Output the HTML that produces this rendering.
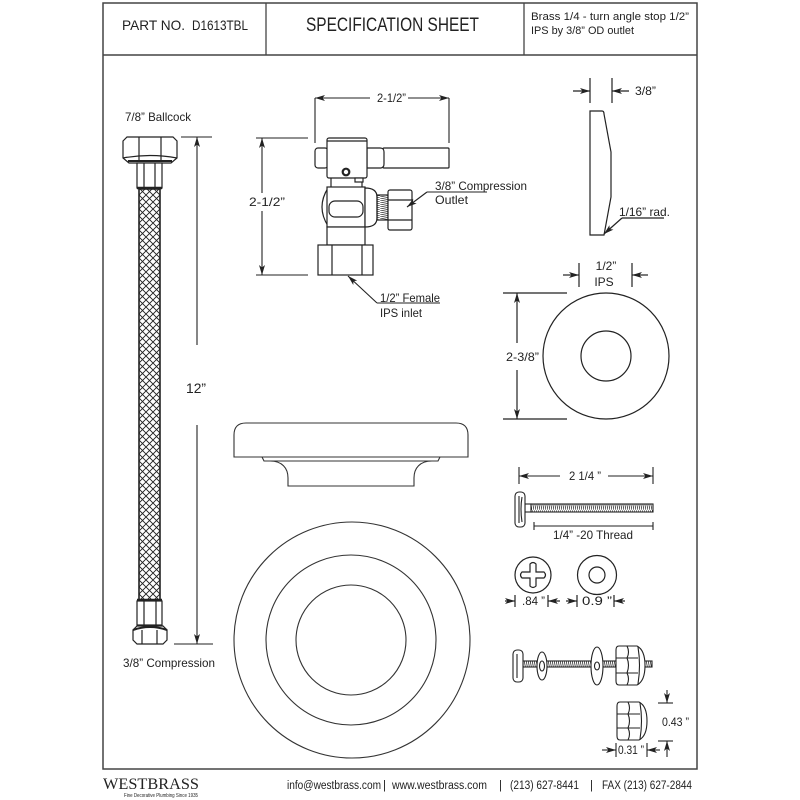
<!DOCTYPE html>
<html><head><meta charset="utf-8"><style>
html,body{margin:0;padding:0;background:#fff;}
svg{display:block;}
text{font-family:"Liberation Sans",sans-serif;fill:#222;}
</style></head><body>
<svg width="800" height="800" viewBox="0 0 800 800" xmlns="http://www.w3.org/2000/svg">
<defs>
<marker id="ah" viewBox="0 0 10 6" refX="10" refY="3" markerWidth="10" markerHeight="6" markerUnits="userSpaceOnUse" orient="auto"><path d="M0,0 L10,3 L0,6 L2.5,3 Z" fill="#222"/></marker>
<pattern id="braid" x="139" y="188" width="7" height="7" patternUnits="userSpaceOnUse"><path d="M0,0 L7,7 M7,0 L0,7" stroke="#222" stroke-width="0.95"/></pattern>
<pattern id="thr" width="2" height="10" patternUnits="userSpaceOnUse"><path d="M0,0 L2,10" stroke="#333" stroke-width="0.8"/></pattern>
<pattern id="thrV" width="10" height="2" patternUnits="userSpaceOnUse"><path d="M0,0 L10,2" stroke="#333" stroke-width="0.8"/></pattern>
</defs>

<!-- frame -->
<rect x="103" y="3" width="594" height="766" fill="none" stroke="#444" stroke-width="1.5"/>
<line x1="103" y1="55" x2="697" y2="55" stroke="#444" stroke-width="1.5"/>
<line x1="266" y1="3" x2="266" y2="55" stroke="#444" stroke-width="1.3"/>
<line x1="524" y1="3" x2="524" y2="55" stroke="#444" stroke-width="1.3"/>

<!-- header text -->
<text x="122" y="30" font-size="14" textLength="63" lengthAdjust="spacingAndGlyphs">PART NO.</text>
<text x="192" y="30" font-size="14" textLength="56" lengthAdjust="spacingAndGlyphs">D1613TBL</text>
<text x="306" y="31" font-size="19" textLength="173" lengthAdjust="spacingAndGlyphs">SPECIFICATION SHEET</text>
<text x="531" y="20" font-size="11" textLength="158" lengthAdjust="spacingAndGlyphs">Brass 1/4 - turn angle stop 1/2”</text>
<text x="531" y="34" font-size="11" textLength="103" lengthAdjust="spacingAndGlyphs">IPS by 3/8” OD outlet</text>

<!-- ===== HOSE ===== -->
<g stroke="#222" fill="#fff" stroke-width="1.2">
  <path d="M123,141 L127,137 L173,137 L177,141 L177,158 L171,163 L129,163 L123,158 Z"/>
  <line x1="139" y1="137" x2="139" y2="160"/>
  <line x1="161" y1="137" x2="161" y2="160"/>
  <path d="M123,158 Q150,153 177,158" fill="none"/>
  <path d="M128,161 L172,161" stroke-width="2"/>
  <rect x="137" y="163" width="25" height="25"/>
  <line x1="144" y1="163" x2="144" y2="188"/>
  <line x1="155" y1="163" x2="155" y2="188"/>
  <line x1="137" y1="188" x2="162" y2="188" stroke-width="2.5"/>
  <rect x="139" y="189" width="21" height="411" fill="url(#braid)" stroke-width="1.6"/>
  <line x1="137" y1="600" x2="162" y2="600" stroke-width="2.5"/>
  <rect x="137" y="601" width="25" height="24"/>
  <line x1="144" y1="601" x2="144" y2="625"/>
  <line x1="156" y1="601" x2="156" y2="625"/>
  <path d="M133,630 L137,626 L163,626 L167,630 L167,640 L163,644 L137,644 L133,640 Z"/>
  <path d="M133,630 Q150,624 167,630" fill="none" stroke-width="2"/>
  <line x1="142" y1="630" x2="142" y2="644"/>
  <line x1="157" y1="630" x2="157" y2="644"/>
</g>
<text x="125" y="121" font-size="12" textLength="66" lengthAdjust="spacingAndGlyphs">7/8” Ballcock</text>
<text x="123" y="667" font-size="12" textLength="92" lengthAdjust="spacingAndGlyphs">3/8” Compression</text>
<g stroke="#222" stroke-width="1.1" fill="none">
  <line x1="181" y1="137" x2="212" y2="137"/>
  <line x1="197" y1="345" x2="197" y2="137" marker-end="url(#ah)"/>
  <line x1="197" y1="425" x2="197" y2="644" marker-end="url(#ah)"/>
  <line x1="174" y1="644" x2="213" y2="644"/>
</g>
<text x="186" y="393" font-size="14" textLength="20" lengthAdjust="spacingAndGlyphs">12”</text>

<!-- ===== VALVE ===== -->
<g stroke="#222" stroke-width="1.1" fill="none">
  <line x1="315" y1="98" x2="315" y2="143"/>
  <line x1="449" y1="98" x2="449" y2="143"/>
  <line x1="370" y1="98" x2="315" y2="98" marker-end="url(#ah)"/>
  <line x1="408" y1="98" x2="449" y2="98" marker-end="url(#ah)"/>
  <line x1="256" y1="138" x2="308" y2="138"/>
  <line x1="256" y1="275" x2="308" y2="275"/>
  <line x1="262" y1="193" x2="262" y2="138" marker-end="url(#ah)"/>
  <line x1="262" y1="211" x2="262" y2="275" marker-end="url(#ah)"/>
</g>
<text x="377" y="102" font-size="12" textLength="29" lengthAdjust="spacingAndGlyphs">2-1/2”</text>
<text x="249" y="206" font-size="12" textLength="36" lengthAdjust="spacingAndGlyphs">2-1/2”</text>

<g fill="#fff" stroke="#222" stroke-width="1.2">
  <rect x="315" y="148" width="13" height="20" rx="3"/>
  <rect x="383" y="148" width="66" height="20" rx="1"/>
  <path d="M367,148 L380,148 Q384,148 384,152 L384,164 Q384,168 380,168 L367,168 Z"/>
  <rect x="327" y="138" width="40" height="40" rx="2"/>
  <line x1="327" y1="141" x2="367" y2="141"/>
  <line x1="331" y1="178" x2="331" y2="188"/>
  <line x1="362" y1="178" x2="362" y2="188"/>
  <rect x="355" y="178" width="8" height="4"/>
  <circle cx="346" cy="172" r="3.3" stroke-width="2.2"/>
  <path d="M328,188 Q316,207 328,226"/>
  <rect x="327" y="187" width="38" height="40"/>
  <rect x="329" y="201" width="34" height="16" rx="6"/>
  <path d="M365,188 Q377,188 377,197 L377,218 Q377,227 365,227 Z"/>
  <rect x="377" y="195" width="11" height="25" fill="url(#thrV)"/>
  <rect x="388" y="190" width="24" height="40" rx="2"/>
  <line x1="388" y1="200" x2="412" y2="200"/>
  <line x1="388" y1="220" x2="412" y2="220"/>
  <rect x="327" y="227" width="38" height="18"/>
  <rect x="318" y="245" width="55" height="30"/>
  <line x1="332" y1="245" x2="332" y2="275"/>
  <line x1="362" y1="245" x2="362" y2="275"/>
</g>
<g stroke="#222" stroke-width="1.1" fill="none">
  <line x1="427" y1="192" x2="487" y2="192"/>
  <line x1="427" y1="192" x2="407" y2="207" marker-end="url(#ah)"/>
  <line x1="377" y1="303" x2="440" y2="303"/>
  <line x1="377" y1="303" x2="348" y2="276" marker-end="url(#ah)"/>
</g>
<text x="435" y="190" font-size="12" textLength="92" lengthAdjust="spacingAndGlyphs">3/8” Compression</text>
<text x="435" y="204" font-size="12" textLength="33" lengthAdjust="spacingAndGlyphs">Outlet</text>
<text x="380" y="302" font-size="12" textLength="60" lengthAdjust="spacingAndGlyphs">1/2” Female</text>
<text x="380" y="317" font-size="12" textLength="42" lengthAdjust="spacingAndGlyphs">IPS inlet</text>

<!-- ===== ESCUTCHEON SIDE ===== -->
<g stroke="#222" stroke-width="1.2" fill="none">
  <path d="M590,111 L602,111 Q604,111 604,114 L611,152 L611,197 L604,235 L590,235 Z" fill="#fff"/>
  <line x1="590" y1="78" x2="590" y2="103"/>
  <line x1="612" y1="78" x2="612" y2="103"/>
  <line x1="573" y1="91" x2="590" y2="91" marker-end="url(#ah)"/>
  <line x1="629" y1="91" x2="612" y2="91" marker-end="url(#ah)"/>
  <line x1="622" y1="218" x2="664" y2="218"/>
  <line x1="622" y1="218" x2="604" y2="234" marker-end="url(#ah)"/>
</g>
<text x="635" y="95" font-size="12" textLength="21" lengthAdjust="spacingAndGlyphs">3/8”</text>
<text x="619" y="216" font-size="12" textLength="51" lengthAdjust="spacingAndGlyphs">1/16” rad.</text>

<!-- ===== RING ===== -->
<g stroke="#222" stroke-width="1.2" fill="none">
  <circle cx="606" cy="356" r="63"/>
  <circle cx="606" cy="356" r="25"/>
  <line x1="579" y1="263" x2="579" y2="287"/>
  <line x1="632" y1="263" x2="632" y2="287"/>
  <line x1="563" y1="275" x2="579" y2="275" marker-end="url(#ah)"/>
  <line x1="648" y1="275" x2="632" y2="275" marker-end="url(#ah)"/>
  <line x1="503" y1="293" x2="567" y2="293"/>
  <line x1="503" y1="419" x2="567" y2="419"/>
  <line x1="517" y1="343" x2="517" y2="293" marker-end="url(#ah)"/>
  <line x1="517" y1="370" x2="517" y2="419" marker-end="url(#ah)"/>
</g>
<text x="606" y="270" font-size="12" text-anchor="middle">1/2”</text>
<text x="604" y="286" font-size="12" text-anchor="middle">IPS</text>
<text x="506" y="361" font-size="12" textLength="33" lengthAdjust="spacingAndGlyphs">2-3/8”</text>

<!-- ===== FLANGE ===== -->
<g stroke="#333" stroke-width="1.1" fill="#fff">
  <path d="M234,457 L234,435 Q234,423 246,423 L456,423 Q468,423 468,435 L468,457 Z"/>
  <path d="M262,457 L264,461 L438,461 L440,457" fill="none"/>
  <path d="M270,461 C282,461 288,468 288,478 L288,486 L414,486 L414,478 C414,468 420,461 432,461" fill="none"/>
  <circle cx="352" cy="640" r="118" fill="none"/>
  <circle cx="351" cy="640" r="85" fill="none"/>
  <circle cx="351" cy="640" r="55" fill="none"/>
</g>

<!-- ===== BOLT TOP ===== -->
<g stroke="#222" stroke-width="1.1" fill="none">
  <line x1="519" y1="467" x2="519" y2="484"/>
  <line x1="653" y1="467" x2="653" y2="484"/>
  <line x1="560" y1="476" x2="519" y2="476" marker-end="url(#ah)"/>
  <line x1="608" y1="476" x2="653" y2="476" marker-end="url(#ah)"/>
  <rect x="531" y="504" width="122" height="8" fill="url(#thr)"/>
  <rect x="525" y="504" width="6" height="8" fill="#fff"/>
  <rect x="515" y="492" width="10" height="35" rx="4" fill="#fff"/>
  <path d="M519,496 L519,523 M522,497 Q520,509 522,522"/>
  <line x1="534" y1="526" x2="653" y2="526"/>
  <line x1="534" y1="522" x2="534" y2="530"/>
  <line x1="653" y1="522" x2="653" y2="530"/>
</g>
<text x="569" y="480" font-size="12" textLength="32" lengthAdjust="spacingAndGlyphs">2 1/4 ”</text>
<text x="553" y="539" font-size="12" textLength="80" lengthAdjust="spacingAndGlyphs">1/4” -20 Thread</text>

<!-- washers -->
<g stroke="#222" stroke-width="1.2" fill="none">
  <circle cx="533" cy="575" r="18"/>
  <path d="M530,564 Q533,561 536,564 L536,572 L544,572 Q547,575 544,578 L536,578 L536,586 Q533,589 530,586 L530,578 L522,578 Q519,575 522,572 L530,572 Z"/>
  <circle cx="597" cy="575" r="19.5"/>
  <circle cx="597" cy="575" r="8"/>
  <line x1="505" y1="601" x2="515" y2="601" marker-end="url(#ah)"/>
  <line x1="515" y1="595" x2="515" y2="607"/>
  <line x1="548" y1="595" x2="548" y2="607"/>
  <line x1="560" y1="601" x2="548" y2="601" marker-end="url(#ah)"/>
  <line x1="566" y1="601" x2="577" y2="601" marker-end="url(#ah)"/>
  <line x1="577" y1="595" x2="577" y2="607"/>
  <line x1="614" y1="595" x2="614" y2="607"/>
  <line x1="625" y1="601" x2="614" y2="601" marker-end="url(#ah)"/>
</g>
<text x="522" y="605" font-size="12" textLength="23" lengthAdjust="spacingAndGlyphs">.84 ”</text>
<text x="582" y="605" font-size="12" textLength="30" lengthAdjust="spacingAndGlyphs">0.9 ”</text>

<!-- ===== BOLT ASSEMBLY ===== -->
<g stroke="#222" stroke-width="1.1" fill="#fff">
  <rect x="523" y="661" width="129" height="6" fill="url(#thr)"/>
  <rect x="513" y="650" width="10" height="32" rx="4"/>
  <path d="M517,654 L517,678" fill="none"/>
  <ellipse cx="542" cy="666" rx="5" ry="14"/>
  <ellipse cx="542" cy="666" rx="2.5" ry="5"/>
  <ellipse cx="597" cy="666" rx="6" ry="19"/>
  <ellipse cx="597" cy="666" rx="2.5" ry="4"/>
  <path d="M619,646 L637,646 Q645,650 645,665.5 Q645,681 637,685 L619,685 Q616,685 616,681 L616,650 Q616,646 619,646 Z"/>
  <path d="M616,658 L638,658 M616,673 L638,673 M627,646 Q630,652 627,658 Q630,665 627,673 Q630,679 627,685 M638,647 Q641,665 638,684" fill="none"/>
  <path d="M620,702 L639,702 Q647,706 647,721 Q647,736 639,740 L620,740 Q617,740 617,736 L617,706 Q617,702 620,702 Z"/>
  <path d="M617,714 L640,714 M617,728 L640,728 M628,702 Q631,708 628,714 Q631,721 628,728 Q631,734 628,740 M640,703 Q643,721 640,739" fill="none"/>
</g>
<g stroke="#222" stroke-width="1.1" fill="none">
  <line x1="658" y1="703" x2="673" y2="703"/>
  <line x1="667" y1="690" x2="667" y2="703" marker-end="url(#ah)"/>
  <line x1="658" y1="741" x2="673" y2="741"/>
  <line x1="667" y1="757" x2="667" y2="741" marker-end="url(#ah)"/>
  <line x1="602" y1="750" x2="616" y2="750" marker-end="url(#ah)"/>
  <line x1="616" y1="743" x2="616" y2="757"/>
  <line x1="647" y1="743" x2="647" y2="757"/>
  <line x1="660" y1="750" x2="647" y2="750" marker-end="url(#ah)"/>
</g>
<text x="662" y="726" font-size="12" textLength="27" lengthAdjust="spacingAndGlyphs">0.43 ”</text>
<text x="618" y="754" font-size="12" textLength="26" lengthAdjust="spacingAndGlyphs">0.31 ”</text>

<!-- ===== FOOTER ===== -->
<text x="103" y="789" font-size="16" textLength="96" lengthAdjust="spacingAndGlyphs" style="font-family:'Liberation Serif',serif;">WESTBRASS</text>
<text x="124" y="797" font-size="5.5" textLength="74" lengthAdjust="spacingAndGlyphs">Fine Decorative Plumbing Since 1935</text>
<text x="287" y="789" font-size="11.5" textLength="94" lengthAdjust="spacingAndGlyphs">info@westbrass.com</text>
<text x="383" y="789" font-size="11.5">|</text>
<text x="392" y="789" font-size="11.5" textLength="95" lengthAdjust="spacingAndGlyphs">www.westbrass.com</text>
<text x="499" y="789" font-size="11.5">|</text>
<text x="510" y="789" font-size="11.5" textLength="69" lengthAdjust="spacingAndGlyphs">(213) 627-8441</text>
<text x="590" y="789" font-size="11.5">|</text>
<text x="602" y="789" font-size="11.5" textLength="90" lengthAdjust="spacingAndGlyphs">FAX (213) 627-2844</text>
</svg>
</body></html>
